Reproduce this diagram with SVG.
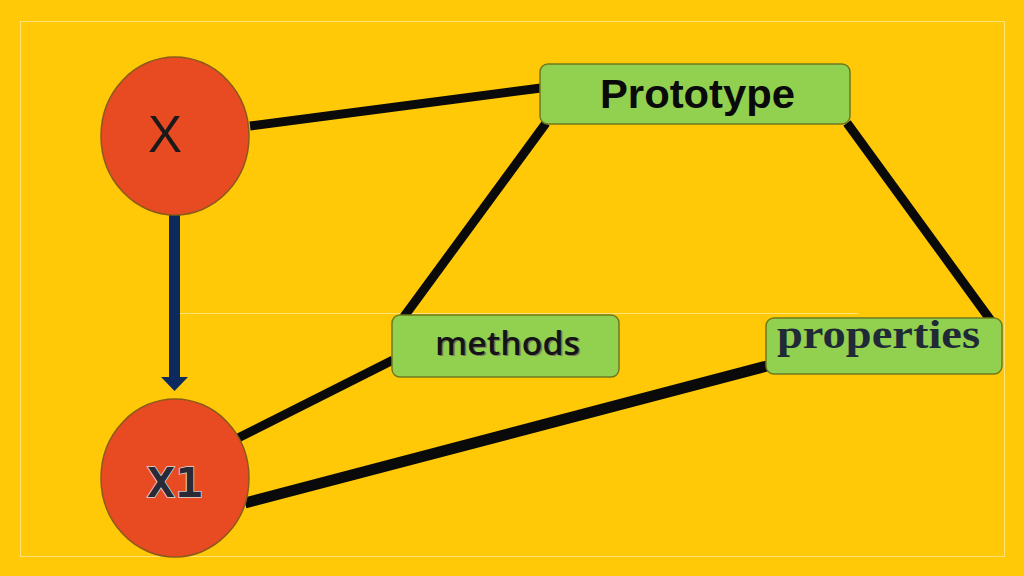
<svg xmlns="http://www.w3.org/2000/svg" width="1024" height="576" viewBox="0 0 1024 576">
  <defs>
    <style>
      .node-circle { fill: #E84A22; stroke: #8A5A1A; stroke-width: 1.5; }
      .node-box { fill: #92D050; stroke: #6E7A1E; stroke-width: 1.5; }
      .conn { stroke: #0A0A0A; stroke-width: 9; stroke-linecap: butt; fill: none; }
    </style>
  </defs>
  <rect x="0" y="0" width="1024" height="576" fill="#FFC908"/>
  <rect x="20.5" y="21.5" width="984" height="535" fill="none" stroke="#FFE27A" stroke-width="1"/>
  <line x1="180" y1="313.5" x2="858" y2="313.5" stroke="#FFE27A" stroke-width="1"/>

  <g id="connectors">
    <line class="conn" x1="250" y1="126" x2="541" y2="88"/>
    <line class="conn" x1="546" y1="123" x2="403" y2="318"/>
    <line class="conn" x1="847" y1="123" x2="992" y2="322"/>
    <line class="conn" x1="238" y1="438" x2="393" y2="360"/>
    <line class="conn" x1="245" y1="503" x2="767" y2="366" style="stroke-width:11"/>
    <rect x="169" y="215" width="11" height="163" fill="#0D2A5E"/>
    <path d="M161,377 L188,377 L174.5,391 Z" fill="#0D2A5E"/>
  </g>

  <g id="node-X">
    <ellipse class="node-circle" cx="175" cy="136" rx="74" ry="79"/>
    <text x="165" y="152" font-family="'Liberation Sans', Arial, sans-serif" font-size="51" fill="#1A1A1A" text-anchor="middle">X</text>
  </g>

  <g id="node-X1">
    <ellipse class="node-circle" cx="175" cy="478" rx="74" ry="79"/>
    <text x="175" y="497" font-family="'DejaVu Sans Mono', 'Liberation Mono', monospace" font-size="40" font-weight="bold" fill="#2A2A36" stroke="#D8D8D8" stroke-width="1.5" paint-order="stroke" text-anchor="middle" textLength="56" lengthAdjust="spacingAndGlyphs">X1</text>
  </g>

  <g id="node-prototype">
    <rect class="node-box" x="540" y="64" width="310" height="60" rx="8"/>
    <text x="697.5" y="108" font-family="'Liberation Sans', Arial, sans-serif" font-size="40" font-weight="bold" fill="#0A0A0A" text-anchor="middle" textLength="195" lengthAdjust="spacingAndGlyphs">Prototype</text>
  </g>

  <g id="node-methods">
    <rect class="node-box" x="392" y="315" width="227" height="62" rx="8"/>
    <text x="509" y="356" font-family="'Open Sans', 'Noto Sans', sans-serif" font-size="32" font-weight="600" fill="#7A7A5A" text-anchor="middle" textLength="145" lengthAdjust="spacingAndGlyphs">methods</text>
    <text x="507.5" y="354.5" font-family="'Open Sans', 'Noto Sans', sans-serif" font-size="32" font-weight="600" fill="#141414" text-anchor="middle" textLength="145" lengthAdjust="spacingAndGlyphs">methods</text>
  </g>

  <g id="node-properties">
    <rect class="node-box" x="766" y="318" width="236" height="56" rx="8"/>
    <text x="878.5" y="348" font-family="'Liberation Serif', 'Times New Roman', serif" font-size="41" font-weight="bold" fill="#1F2A36" text-anchor="middle" textLength="203" lengthAdjust="spacingAndGlyphs">properties</text>
  </g>
</svg>
